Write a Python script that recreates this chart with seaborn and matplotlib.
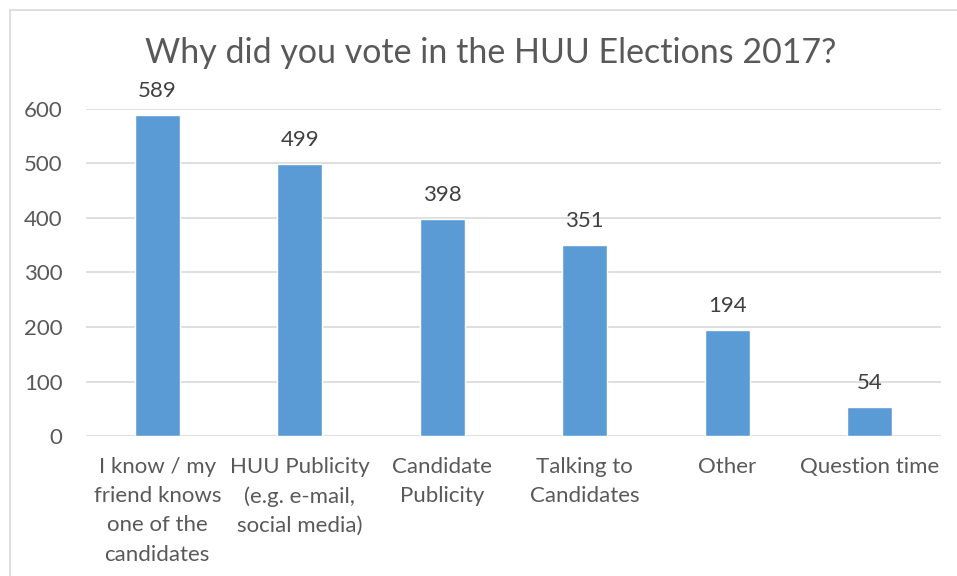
import matplotlib
matplotlib.use("Agg")
import matplotlib.pyplot as plt
import seaborn as sns
import pandas as pd
from matplotlib.patches import Rectangle

categories = ["I know / my\nfriend knows\none of the\ncandidates",
              "HUU Publicity\n(e.g. e-mail,\nsocial media)",
              "Candidate\nPublicity",
              "Talking to\nCandidates",
              "Other",
              "Question time"]
values = [589, 499, 398, 351, 194, 54]
yticks = [0, 100, 200, 300, 400, 500, 600]
title = "Why did you vote in the HUU Elections 2017?"

sns.set_theme(style="white")
plt.rcParams['font.family'] = ['Lato', 'DejaVu Sans']

W, H = 957, 576
fig = plt.figure(figsize=(W / 100, H / 100), dpi=100)
ax = fig.add_axes([86 / W, 1 - 436 / H, (941 - 86) / W, (436 - 109) / H])

df = pd.DataFrame({"cat": categories, "val": values})
sns.barplot(data=df, x="cat", y="val", color="#5B9BD5", width=0.315, ax=ax,
            saturation=1, zorder=3)

txt = "#595959"
fs = 16
ax.set_ylim(0, 600)
ax.set_xlim(-0.5, len(categories) - 0.5)
ax.set_yticks(yticks)
ax.set_yticklabels([str(v) for v in yticks], fontsize=fs, color=txt)
ax.set_xticklabels(categories, fontsize=fs, color=txt, linespacing=1.58)
ax.tick_params(axis="both", length=0)
ax.tick_params(axis="y", pad=17)
ax.tick_params(axis="x", pad=15)
ax.set_xlabel("")
ax.set_ylabel("")
for y in yticks:
    ax.axhline(y, color="#d9d9d9", lw=1.2, zorder=1)
for s in ax.spines.values():
    s.set_visible(False)

for i, v in enumerate(values):
    ax.annotate(str(v), (i, v), xytext=(0, 10), textcoords="offset points",
                ha="center", va="bottom", fontsize=fs, color="#404040")

fig.text(491 / W, 1 - 53 / H, title, ha="center", va="center", fontsize=24.5, color=txt)

fig.patches.append(Rectangle((10 / W, -0.1), 1.2, (1 - 10 / H) + 0.1,
                             transform=fig.transFigure, fill=False,
                             edgecolor="#d9d9d9", lw=1.2))

fig.savefig("out.png", dpi=100)
